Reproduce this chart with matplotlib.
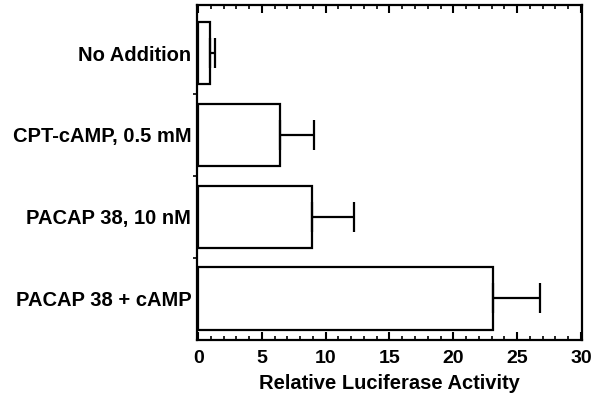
import matplotlib
matplotlib.use("Agg")
import matplotlib.pyplot as plt
from matplotlib.ticker import MultipleLocator, FixedLocator

categories = ["No Addition", "CPT-cAMP, 0.5 mM", "PACAP 38, 10 nM", "PACAP 38 + cAMP"]
values = [0.9, 6.4, 8.9, 23.1]
errors = [0.4, 2.7, 3.3, 3.7]
xticks = [0, 5, 10, 15, 20, 25, 30]

plt.rcParams['font.family'] = ['Liberation Sans', 'DejaVu Sans']
plt.rcParams['font.weight'] = 'bold'

fig = plt.figure(figsize=(6.02, 4.04), dpi=100)
ax = fig.add_axes([0.327, 0.158, 0.640, 0.830])

pos = list(range(len(categories)))
ax.barh(pos, values, height=0.76, color='white', edgecolor='black', linewidth=1.6, zorder=2)
ax.errorbar(values, pos, xerr=[[0]*len(errors), errors], fmt='none', ecolor='black',
            elinewidth=1.6, capsize=10.5, capthick=1.6, zorder=3)

ax.set_xlim(-0.1, 30.1)
ax.set_ylim(3.51, -0.59)
ax.set_yticks(pos)
ax.set_yticklabels(categories, fontsize=14.5, fontweight='bold')
ax.tick_params(axis='y', which='major', length=0, pad=4)
ax.yaxis.set_minor_locator(FixedLocator([0.5, 1.5, 2.5]))
ax.tick_params(axis='y', which='minor', length=3, width=1.2, direction='out', left=True, right=False)

ax.set_xticks(xticks)
ax.set_xticklabels([str(t) for t in xticks], fontsize=14, fontweight='bold')
ax.xaxis.set_minor_locator(MultipleLocator(1))
ax.tick_params(axis='x', which='major', direction='in', length=6, width=1.5, top=True, bottom=True, pad=7)
ax.tick_params(axis='x', which='minor', direction='in', length=3, width=1.2, top=True, bottom=True)
ax.set_xlabel("Relative Luciferase Activity", fontsize=14.5, fontweight='bold', labelpad=5)

for s in ax.spines.values():
    s.set_linewidth(1.6)

fig.savefig("out.png", dpi=100)
